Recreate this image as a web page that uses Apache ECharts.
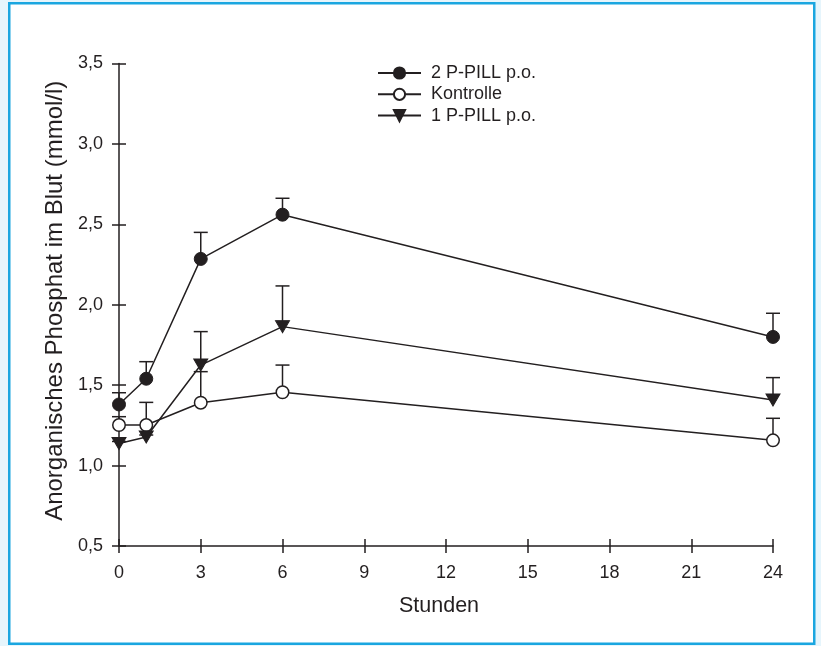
<!DOCTYPE html>
<html><head><meta charset="utf-8">
<script src="https://cdn.jsdelivr.net/npm/echarts@6/dist/echarts.min.js"></script>
<style>html,body{margin:0;padding:0;background:#e6f5fc;}#c{width:821px;height:646px;}</style>
</head><body><div id="c"></div>
<script>
const hours = [0, 1, 3, 6, 24];
const xTicks = [0, 3, 6, 9, 12, 15, 18, 21, 24];
const yTicks = ['0,5', '1,0', '1,5', '2,0', '2,5', '3,0', '3,5'];
const seriesNames = ['2 P-PILL p.o.', 'Kontrolle', '1 P-PILL p.o.'];
const pill2 = [1.38, 1.54, 2.285, 2.56, 1.80];
const pill2Upper = [1.453, 1.646, 2.45, 2.662, 1.947];
const kontrolle = [1.252, 1.252, 1.391, 1.456, 1.157];
const kontrolleUpper = [1.304, 1.393, 1.584, 1.625, 1.294];
const pill1 = [1.137, 1.178, 1.625, 1.864, 1.408];
const pill1Upper = [1.15, 1.19, 1.833, 2.117, 1.547];

const ink = '#231f20';
const fontFam = '"Liberation Sans", Arial, sans-serif';

function pairs(vals) { return hours.map((h, i) => [h, vals[i]]); }
function errData(vals, up) { return hours.map((h, i) => [h, vals[i], up[i]]); }

function errSeries(vals, up) {
  return {
    type: 'custom', xAxisIndex: 0, yAxisIndex: 0, z: 1, silent: true,
    data: errData(vals, up),
    renderItem: function (params, api) {
      const p0 = api.coord([api.value(0), api.value(1)]);
      const p1 = api.coord([api.value(0), api.value(2)]);
      const hw = 7;
      return {
        type: 'group',
        children: [
          { type: 'line', shape: { x1: p0[0], y1: p0[1], x2: p1[0], y2: p1[1] }, style: { stroke: ink, lineWidth: 1.5 } },
          { type: 'line', shape: { x1: p1[0] - hw, y1: p1[1], x2: p1[0] + hw, y2: p1[1] }, style: { stroke: ink, lineWidth: 1.5 } }
        ]
      };
    }
  };
}

const lineCommon = { type: 'line', xAxisIndex: 0, yAxisIndex: 0, z: 3, lineStyle: { color: ink, width: 1.5 }, emphasis: { disabled: true } };

const option = {
  backgroundColor: 'transparent',
  animation: false,
  graphic: [{
    type: 'rect', z: -10, silent: true,
    shape: { x: 9.25, y: 3.25, width: 805, height: 640.5 },
    style: { fill: '#ffffff', stroke: '#1aa6e0', lineWidth: 2.5 }
  }],
  grid: { left: 119, right: 48, top: 63.5, bottom: 100, containLabel: false },
  legend: {
    orient: 'vertical', left: 372, top: 59,
    itemWidth: 43, itemHeight: 14, itemGap: 3.3,
    textStyle: { color: ink, fontFamily: fontFam, fontSize: 18, lineHeight: 18, padding: [0, 0, 0, 5] },
    data: seriesNames
  },
  xAxis: [{
    type: 'value', min: 0, max: 24, interval: 3, position: 'bottom',
    axisLine: { show: true, onZero: false, lineStyle: { color: ink, width: 1.5 } },
    axisTick: { show: true, inside: false, length: 7, lineStyle: { color: ink, width: 1.5 } },
    axisLabel: { color: ink, fontFamily: fontFam, fontSize: 18, margin: 18, formatter: v => String(xTicks[xTicks.indexOf(v)]) },
    splitLine: { show: false },
    name: 'Stunden', nameLocation: 'middle', nameGap: 49,
    nameTextStyle: { color: ink, fontFamily: fontFam, fontSize: 21.5, padding: [0, 14, 0, 0] }
  }, {
    type: 'value', min: 0, max: 24, interval: 3, position: 'bottom',
    axisLine: { show: false, onZero: false },
    axisTick: { show: true, inside: true, length: 7, lineStyle: { color: ink, width: 1.5 } },
    axisLabel: { show: false }, splitLine: { show: false }
  }],
  yAxis: [{
    type: 'value', min: 0.5, max: 3.5, interval: 0.5, position: 'left',
    axisLine: { show: true, onZero: false, lineStyle: { color: ink, width: 1.5 } },
    axisTick: { show: true, inside: false, length: 7, lineStyle: { color: ink, width: 1.5 } },
    axisLabel: { color: ink, fontFamily: fontFam, fontSize: 18, margin: 16, formatter: v => yTicks[Math.round((v - 0.5) / 0.5)] },
    splitLine: { show: false },
    name: 'Anorganisches Phosphat im Blut (mmol/l)', nameLocation: 'middle', nameGap: 52,
    nameTextStyle: { color: ink, fontFamily: fontFam, fontSize: 24, padding: [0, 0, 0, 8] }
  }, {
    type: 'value', min: 0.5, max: 3.5, interval: 0.5, position: 'left',
    axisLine: { show: false, onZero: false },
    axisTick: { show: true, inside: true, length: 7, lineStyle: { color: ink, width: 1.5 } },
    axisLabel: { show: false }, splitLine: { show: false }
  }],
  series: [
    errSeries(pill2, pill2Upper),
    errSeries(kontrolle, kontrolleUpper),
    errSeries(pill1, pill1Upper),
    Object.assign({}, lineCommon, {
      name: seriesNames[0], data: pairs(pill2), symbol: 'circle', symbolSize: 13,
      itemStyle: { color: ink, borderColor: ink, borderWidth: 1 }
    }),
    Object.assign({}, lineCommon, {
      name: seriesNames[1], data: pairs(kontrolle), symbol: 'circle', symbolSize: 12.5,
      itemStyle: { color: '#ffffff', borderColor: ink, borderWidth: 1.5 }
    }),
    Object.assign({}, lineCommon, {
      name: seriesNames[2], data: pairs(pill1), symbol: 'triangle', symbolSize: [14, 12], symbolRotate: 180,
      itemStyle: { color: ink, borderColor: ink, borderWidth: 1 }
    })
  ]
};
echarts.init(document.getElementById('c')).setOption(option);
</script></body></html>
